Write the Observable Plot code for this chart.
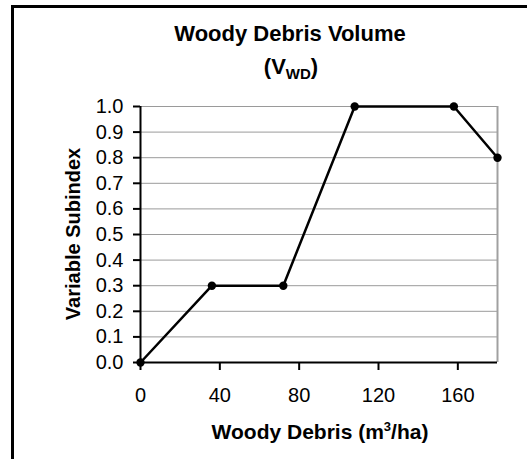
<!DOCTYPE html>
<html><head><meta charset="utf-8">
<script src="https://cdn.jsdelivr.net/npm/d3@7"></script>
<script src="https://cdn.jsdelivr.net/npm/@observablehq/plot@0.6"></script>
<style>
body{margin:0;background:#fff;font-family:"Liberation Sans",Arial,sans-serif;}
#wrap{position:relative;width:527px;height:459px;overflow:hidden;background:#fff;}
#frame{position:absolute;left:11px;top:5px;width:700px;height:700px;border-left:3px solid #000;border-top:3px solid #000;}
#chart{position:absolute;left:0;top:0;}
.t{position:absolute;font-weight:bold;color:#000;white-space:nowrap;line-height:1;}
</style></head><body>
<div id="wrap">
<div id="frame"></div>
<div id="chart"></div>
<div class="t" id="title1" style="left:290px;top:23px;font-size:22px;transform:translateX(-50%);">Woody Debris Volume</div>
<div class="t" id="title2" style="left:291px;top:56px;font-size:22px;transform:translateX(-50%);">(V<span style="font-size:15px;position:relative;top:5px;">WD</span>)</div>
<div class="t" id="ylab" style="left:73px;top:234px;font-size:20px;transform:translate(-50%,-50%) rotate(-90deg);">Variable Subindex</div>
<div class="t" id="xlab" style="left:320px;top:421px;font-size:21px;transform:translateX(-50%);">Woody Debris (m<span style="font-size:13px;position:relative;top:-8px;">3</span>/ha)</div>
</div>
<script>
const debris = [0, 36, 72, 108, 158, 180];
const subindex = [0, 0.3, 0.3, 1.0, 1.0, 0.8];
const xTicks = [0, 40, 80, 120, 160];
const yTicks = [0, 0.1, 0.2, 0.3, 0.4, 0.5, 0.6, 0.7, 0.8, 0.9, 1.0];
const gridLevels = [0.1, 0.2, 0.3, 0.4, 0.5, 0.6, 0.7, 0.8, 0.9, 1.0];
const xMax = 180;

const data = debris.map((x, i) => ({x, y: subindex[i]}));

const chart = Plot.plot({
  width: 527,
  height: 459,
  marginLeft: 140,
  marginRight: 30,
  marginTop: 106,
  marginBottom: 97,
  style: {fontFamily: "'Liberation Sans', Arial, sans-serif", fontSize: "20px", background: "transparent", color: "#000"},
  x: {domain: [0, xMax]},
  y: {domain: [0, 1]},
  marks: [
    Plot.ruleY(gridLevels, {stroke: "#9a9a9a", strokeWidth: 1}),
    Plot.ruleX([xMax], {stroke: "#a0a0a0", strokeWidth: 2}),
    Plot.ruleY([0], {stroke: "#000", strokeWidth: 2}),
    Plot.ruleX([0], {stroke: "#000", strokeWidth: 2}),
    Plot.axisY(yTicks, {tickSize: 7, tickPadding: 10, strokeWidth: 2, fontSize: 20, tickFormat: d3.format(".1f"), label: null}),
    Plot.axisX(xTicks, {tickSize: 8, tickPadding: 17, strokeWidth: 2, fontSize: 20, label: null}),
    Plot.line(data, {x: "x", y: "y", stroke: "#000", strokeWidth: 2.5}),
    Plot.dot(data, {x: "x", y: "y", r: 4.2, fill: "#000", stroke: "none"})
  ]
});
document.getElementById("chart").appendChild(chart);
</script>
</body></html>
